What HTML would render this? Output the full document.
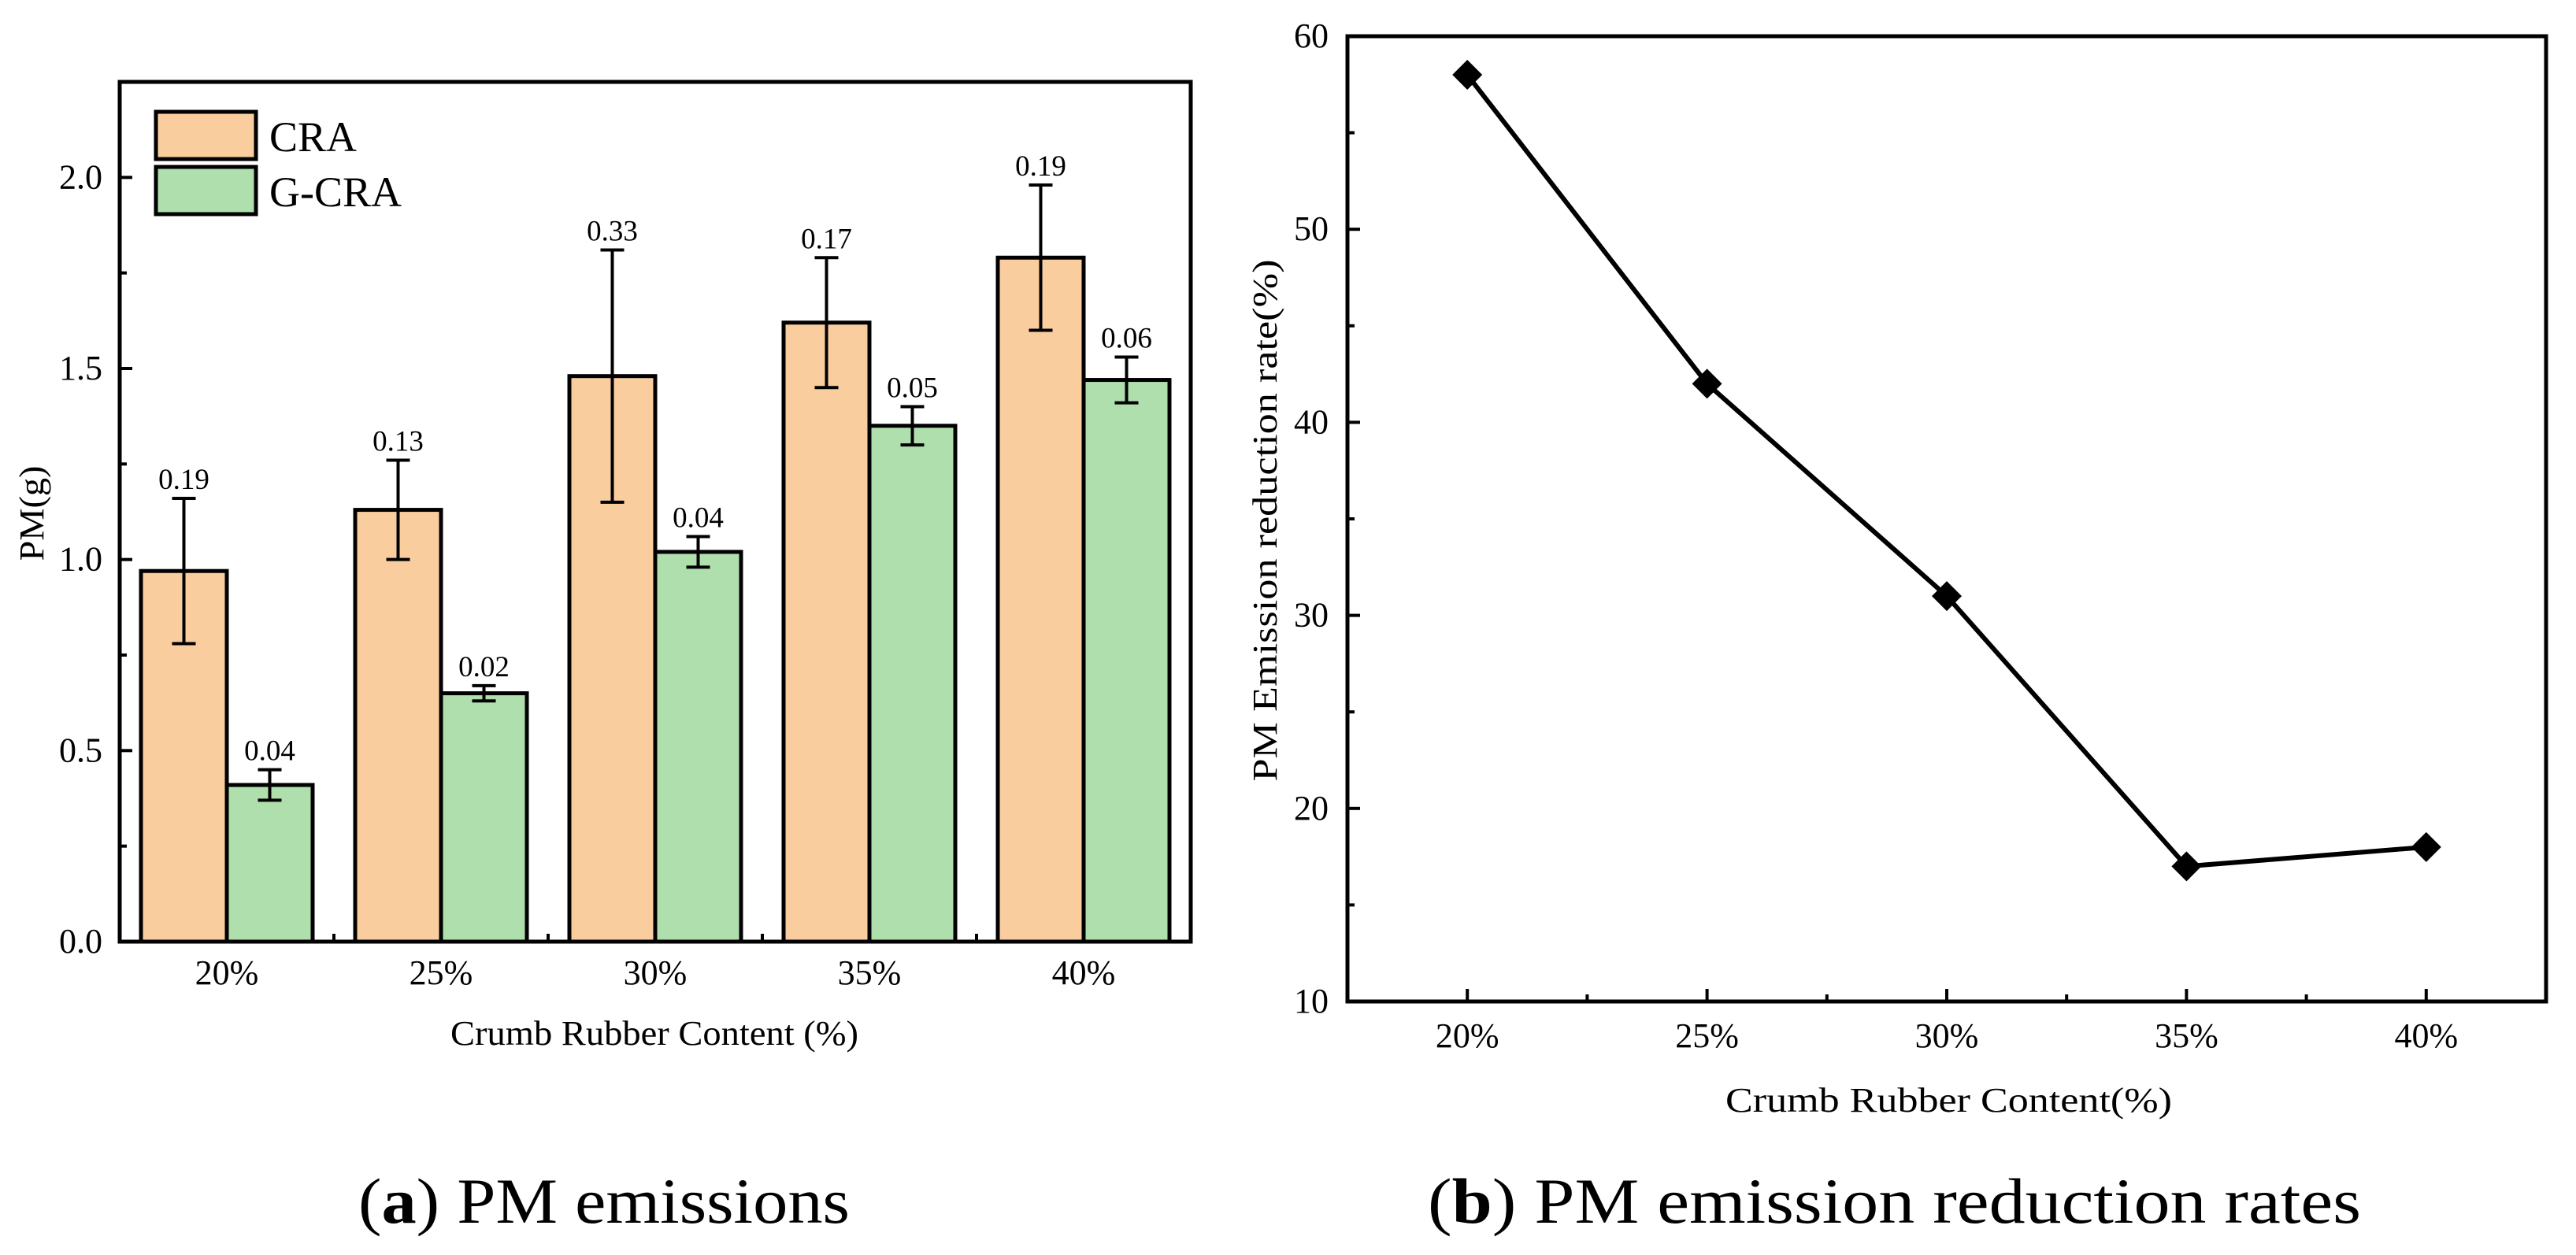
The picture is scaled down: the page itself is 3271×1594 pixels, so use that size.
<!DOCTYPE html>
<html><head><meta charset="utf-8"><style>
html,body{margin:0;padding:0;background:#fff}
svg{display:block;font-family:"Liberation Serif",serif}
</style></head><body>
<svg id="fig" width="3271" height="1594" viewBox="0 0 3271 1594" xmlns="http://www.w3.org/2000/svg">
<g id="pa"></g>
<g id="pb"></g>
<text x="455" y="1553" font-size="82" textLength="624" lengthAdjust="spacingAndGlyphs">(<tspan font-weight="bold">a</tspan>) PM emissions</text>
<text x="1813" y="1553" font-size="82" textLength="1185" lengthAdjust="spacingAndGlyphs">(<tspan font-weight="bold">b</tspan>) PM emission reduction rates</text>
</svg>
<script>
const categories = ["20%","25%","30%","35%","40%"];
const craValues = [0.97,1.13,1.48,1.62,1.79];
const craErrors = [0.19,0.13,0.33,0.17,0.19];
const gcraValues = [0.41,0.65,1.02,1.35,1.47];
const gcraErrors = [0.04,0.02,0.04,0.05,0.06];
const yTicksA = [0.0,0.5,1.0,1.5,2.0];
const reductionRates = [58,42,31,17,18];
const yTicksB = [10,20,30,40,50,60];

const NS="http://www.w3.org/2000/svg";
function mk(parent,tag,attrs,text){const e=document.createElementNS(NS,tag);for(const k in attrs)e.setAttribute(k,attrs[k]);if(text!==undefined)e.textContent=text;parent.appendChild(e);return e;}

// ---- Chart A ----
const A={l:152,r:1512,t:104,b:1196,ymax:2.25};
const xA=i=>A.l+(i+0.5)*(A.r-A.l)/categories.length;
const yA=v=>A.b-v/A.ymax*(A.b-A.t);
const pa=document.getElementById('pa');
const bw=109;
categories.forEach((c,i)=>{
  const cx=xA(i);
  [[craValues,craErrors,-1,'#facd9f','cra'],[gcraValues,gcraErrors,0,'#b0dfae','g-cra']].forEach(([vals,errs,off,col,nm])=>{
    const x0=cx+off*bw;
    const r=mk(pa,'rect',{x:x0,y:yA(vals[i]),width:bw,height:A.b-yA(vals[i]),fill:col,stroke:'#000','stroke-width':5});
    
    
    const ex=x0+bw/2, yt=yA(vals[i]+errs[i]), yb=yA(vals[i]-errs[i]);
    const g=mk(pa,'g',{stroke:'#000','stroke-width':4});
    
    
    mk(g,'line',{x1:ex,x2:ex,y1:yt,y2:yb});
    mk(g,'line',{x1:ex-15,x2:ex+15,y1:yt,y2:yt});
    mk(g,'line',{x1:ex-15,x2:ex+15,y1:yb,y2:yb});
    const t=mk(pa,'text',{x:ex,y:yt-12,'font-size':37,'text-anchor':'middle'},errs[i].toFixed(2));
    
    
  });
  const tl=mk(pa,'text',{x:cx,y:1250,'font-size':44,'text-anchor':'middle'},c);
  
  
  if(i<categories.length-1){mk(pa,'line',{x1:cx+(A.r-A.l)/10,x2:cx+(A.r-A.l)/10,y1:A.b,y2:A.b-10,stroke:'#000','stroke-width':4});}
});
yTicksA.forEach(v=>{
  mk(pa,'line',{x1:A.l,x2:A.l+16,y1:yA(v),y2:yA(v),stroke:'#000','stroke-width':4});
  const t=mk(pa,'text',{x:A.l-22,y:yA(v)+14,'font-size':44,'text-anchor':'end'},v.toFixed(1));
  
  
});
for(let v=0.25;v<A.ymax;v+=0.5){mk(pa,'line',{x1:A.l,x2:A.l+9,y1:yA(v),y2:yA(v),stroke:'#000','stroke-width':4});}
const fa=mk(pa,'rect',{x:A.l,y:A.t,width:A.r-A.l,height:A.b-A.t,fill:'none',stroke:'#000','stroke-width':5});


// legend
const lg=mk(pa,'g',{});


mk(lg,'rect',{x:198,y:142,width:127,height:60,fill:'#facd9f',stroke:'#000','stroke-width':5});
mk(lg,'rect',{x:198,y:212,width:127,height:60,fill:'#b0dfae',stroke:'#000','stroke-width':5});
const l1=mk(lg,'text',{x:342,y:192,'font-size':54},'CRA');


const l2=mk(lg,'text',{x:342,y:262,'font-size':54},'G-CRA');


const xa=mk(pa,'text',{x:572,y:1327,'font-size':44,textLength:518,lengthAdjust:'spacingAndGlyphs'},'Crumb Rubber Content (%)');


const ya=mk(pa,'text',{x:0,y:0,'font-size':44,'text-anchor':'middle',transform:'translate(55,652) rotate(-90)',textLength:121,lengthAdjust:'spacingAndGlyphs'},'PM(g)');



// ---- Chart B ----
const B={l:1711,r:3233,t:46,b:1272,ymin:10,ymax:60};
const xB=i=>B.l+(i+0.5)*(B.r-B.l)/categories.length;
const yB=v=>B.b-(v-B.ymin)/(B.ymax-B.ymin)*(B.b-B.t);
const pb=document.getElementById('pb');
yTicksB.forEach(v=>{
  mk(pb,'line',{x1:B.l,x2:B.l+16,y1:yB(v),y2:yB(v),stroke:'#000','stroke-width':4});
  const t=mk(pb,'text',{x:B.l-24,y:yB(v)+14,'font-size':44,'text-anchor':'end'},v);
  
  
});
for(let v=15;v<B.ymax;v+=10){mk(pb,'line',{x1:B.l,x2:B.l+9,y1:yB(v),y2:yB(v),stroke:'#000','stroke-width':4});}
categories.forEach((c,i)=>{
  const cx=xB(i);
  mk(pb,'line',{x1:cx,x2:cx,y1:B.b,y2:B.b-16,stroke:'#000','stroke-width':4});
  if(i<categories.length-1){const m=cx+(B.r-B.l)/10;mk(pb,'line',{x1:m,x2:m,y1:B.b,y2:B.b-9,stroke:'#000','stroke-width':4});}
  const t=mk(pb,'text',{x:cx,y:1330,'font-size':44,'text-anchor':'middle'},c);
  
  
});
const pts=reductionRates.map((v,i)=>xB(i)+','+yB(v)).join(' ');
const ln=mk(pb,'polyline',{points:pts,fill:'none',stroke:'#000','stroke-width':6,'stroke-linejoin':'round'});


reductionRates.forEach((v,i)=>{
  const x=xB(i),y=yB(v),s=19;
  const p=mk(pb,'polygon',{points:`${x},${y-s} ${x+s},${y} ${x},${y+s} ${x-s},${y}`,fill:'#000'});
  
  
});
const fb=mk(pb,'rect',{x:B.l,y:B.t,width:B.r-B.l,height:B.b-B.t,fill:'none',stroke:'#000','stroke-width':5});


const xb=mk(pb,'text',{x:2191,y:1412,'font-size':44,textLength:567,lengthAdjust:'spacingAndGlyphs'},'Crumb Rubber Content(%)');


const yb=mk(pb,'text',{x:0,y:0,'font-size':44,'text-anchor':'middle',transform:'translate(1621,661) rotate(-90)',textLength:663,lengthAdjust:'spacingAndGlyphs'},'PM Emission reduction rate(%)');


</script>
</body></html>
